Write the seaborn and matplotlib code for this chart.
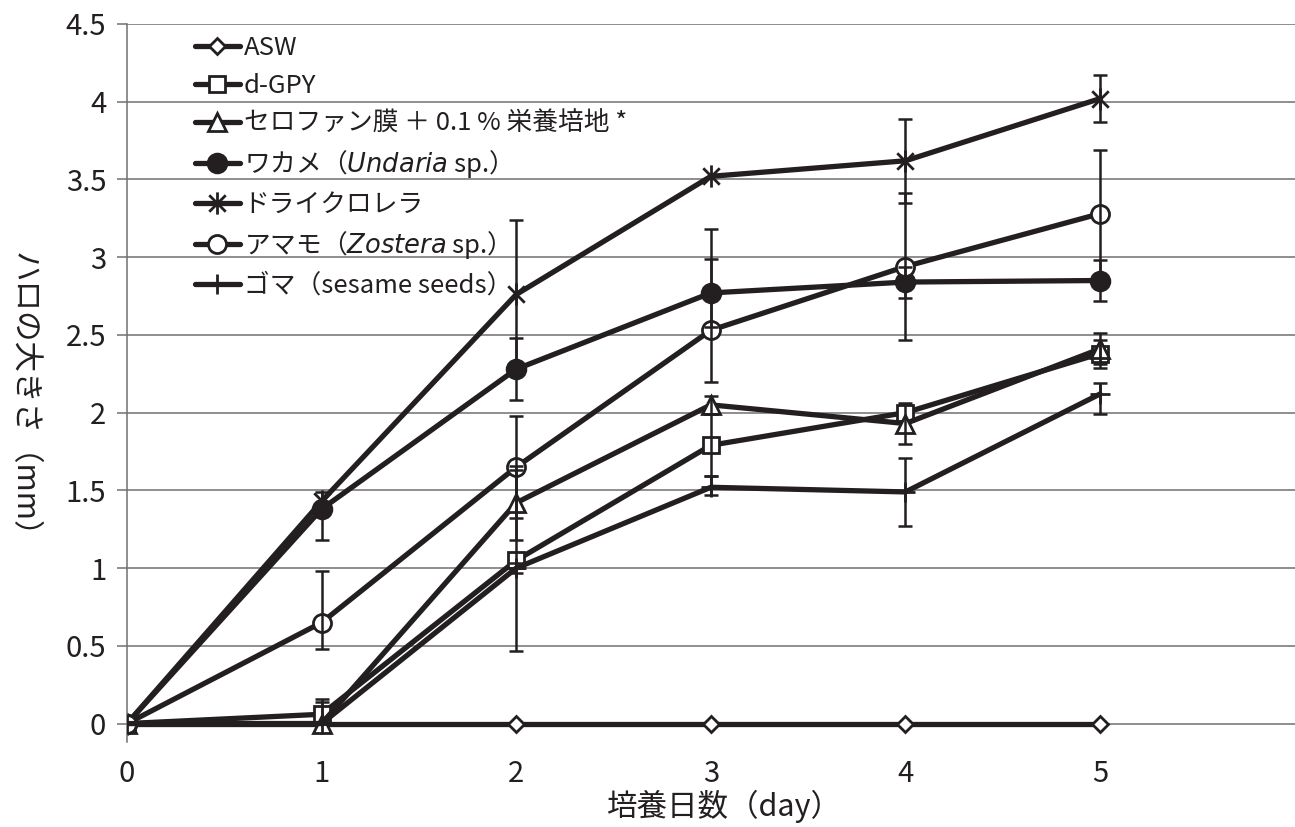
import numpy as np
import seaborn as sns
import matplotlib.pyplot as plt
from matplotlib.path import Path
from matplotlib.ticker import FuncFormatter

# データ
days = [0, 1, 2, 3, 4, 5]

asw = [0, 0, 0, 0, 0, 0]

dgpy = [0, 0.06, 1.05, 1.79, 2.00, 2.38]
dgpy_lo = [0, 0.06, 0.58, 0.20, 0, 0.09]
dgpy_hi = [0, 0.10, 0.58, 0.20, 0, 0.09]

cello = [0, 0, 1.42, 2.05, 1.93, 2.41]
cello_lo = [0, 0, 0.24, 0.06, 0.13, 0.10]
cello_hi = [0, 0.14, 0.24, 0.06, 0.13, 0.10]

wakame = [0, 1.38, 2.28, 2.77, 2.84, 2.85]
wakame_lo = [0, 0.20, 0.20, 0.22, 0.10, 0.13]
wakame_hi = [0, 0, 0.20, 0.22, 0.10, 0.13]

chlorella = [0, 1.43, 2.76, 3.52, 3.62, 4.02]
chlorella_lo = [0, 0.06, 0.48, 0, 0.27, 0.15]
chlorella_hi = [0, 0.06, 0.48, 0, 0.27, 0.15]

amamo = [0, 0.65, 1.65, 2.53, 2.94, 3.28]
amamo_lo = [0, 0.17, 0.33, 0.33, 0.47, 0.41]
amamo_hi = [0, 0.33, 0.33, 0.65, 0.47, 0.41]

goma = [0, 0, 1.00, 1.52, 1.49, 2.12]
goma_lo = [0, 0, 0.03, 0.05, 0.22, 0.13]
goma_hi = [0, 0, 0.03, 0.07, 0.22, 0.07]

labels = [
    "ASW",
    "d-GPY",
    "セロファン膜 ＋ 0.1 % 栄養培地 *",
    r"ワカメ（$\mathit{Undaria}$ sp.）",
    "ドライクロレラ",
    r"アマモ（$\mathit{Zostera}$ sp.）",
    "ゴマ（sesame seeds）",
]
yticks = [0, 0.5, 1, 1.5, 2, 2.5, 3, 3.5, 4, 4.5]

# スタイル
sns.set_style("white")
plt.rcParams['font.family'] = ['Noto Sans CJK JP', 'DejaVu Sans']
plt.rcParams['mathtext.fontset'] = 'custom'
plt.rcParams['mathtext.it'] = 'DejaVu Sans:italic'
plt.rcParams['mathtext.rm'] = 'Noto Sans CJK JP'

INK = '#231f20'
GRID = '#707070'

# アスタリスク型マーカー（× ＋ 縦線）
star = Path([(-1, -1), (1, 1), (-1, 1), (1, -1), (0, -1.35), (0, 1.35)],
            [Path.MOVETO, Path.LINETO, Path.MOVETO, Path.LINETO, Path.MOVETO, Path.LINETO])

series = [
    (asw, None, None, 'D', 8, 'white'),
    (dgpy, dgpy_lo, dgpy_hi, 's', 12, 'white'),
    (cello, cello_lo, cello_hi, '^', 13, 'white'),
    (wakame, wakame_lo, wakame_hi, 'o', 13.5, INK),
    (chlorella, chlorella_lo, chlorella_hi, star, 16, INK),
    (amamo, amamo_lo, amamo_hi, 'o', 13, 'white'),
    (goma, goma_lo, goma_hi, '+', 14, INK),
]

fig, ax = plt.subplots(figsize=(12.95, 8.27), dpi=100)
fig.subplots_adjust(left=0.0981, right=0.9997, bottom=0.1025, top=0.971)

for i, ((vals, lo, hi, mk, ms, fc), lab) in enumerate(zip(series, labels)):
    sns.lineplot(x=days, y=vals, ax=ax, color=INK, lw=3.8, marker=mk,
                 markersize=ms, markerfacecolor=fc, markeredgecolor=INK,
                 markeredgewidth=2.0, label=lab, estimator=None, zorder=2 + i * 0.1)

# 誤差棒
for vals, lo, hi, mk, ms, fc in series:
    if lo is None:
        continue
    for d, v, l, h in zip(days, vals, lo, hi):
        if l == 0 and h == 0:
            continue
        ax.vlines(d, v - l, v + h, color=INK, lw=1.8, zorder=5)
        if l > 0:
            ax.plot(d, v - l, marker='_', ms=9.5, mew=1.8, color=INK, zorder=5)
        if h > 0:
            ax.plot(d, v + h, marker='_', ms=9.5, mew=1.8, color=INK, zorder=5)

ax.set_xlim(0, 6)
ax.set_ylim(-0.12, 4.5)
ax.set_xticks(days)
ax.set_yticks(yticks)
ax.yaxis.set_major_formatter(FuncFormatter(lambda v, p: f"{v:g}"))
ax.yaxis.grid(True, color=GRID, lw=1.1)
ax.xaxis.grid(False)
for s in ['top', 'right', 'bottom']:
    ax.spines[s].set_visible(False)
ax.spines['left'].set_color(GRID)
ax.spines['left'].set_linewidth(1.1)
ax.tick_params(axis='y', length=7, width=1.1, color=GRID, pad=8,
               labelsize=21, labelcolor=INK, left=True)
ax.tick_params(axis='x', length=0, pad=12, labelsize=21, labelcolor=INK)

ax.set_xlabel('培養日数（day）', fontsize=22, color=INK, va='center')
ax.xaxis.set_label_coords(0.512, -0.09)
ax.set_ylabel('ハロの大きさ（mm）', fontsize=22, color=INK, rotation=270,
              va='center', ha='center')
ax.yaxis.set_label_coords(-0.089, 0.474)

leg = ax.legend(loc='upper left', bbox_to_anchor=(0.058, 0.984), frameon=False,
                fontsize=18.5, handlelength=1.75, handletextpad=0.15,
                labelspacing=0.45, borderpad=0, borderaxespad=0, markerscale=1.0)
for t in leg.get_texts():
    t.set_color(INK)

plt.savefig('out.png', dpi=100)
